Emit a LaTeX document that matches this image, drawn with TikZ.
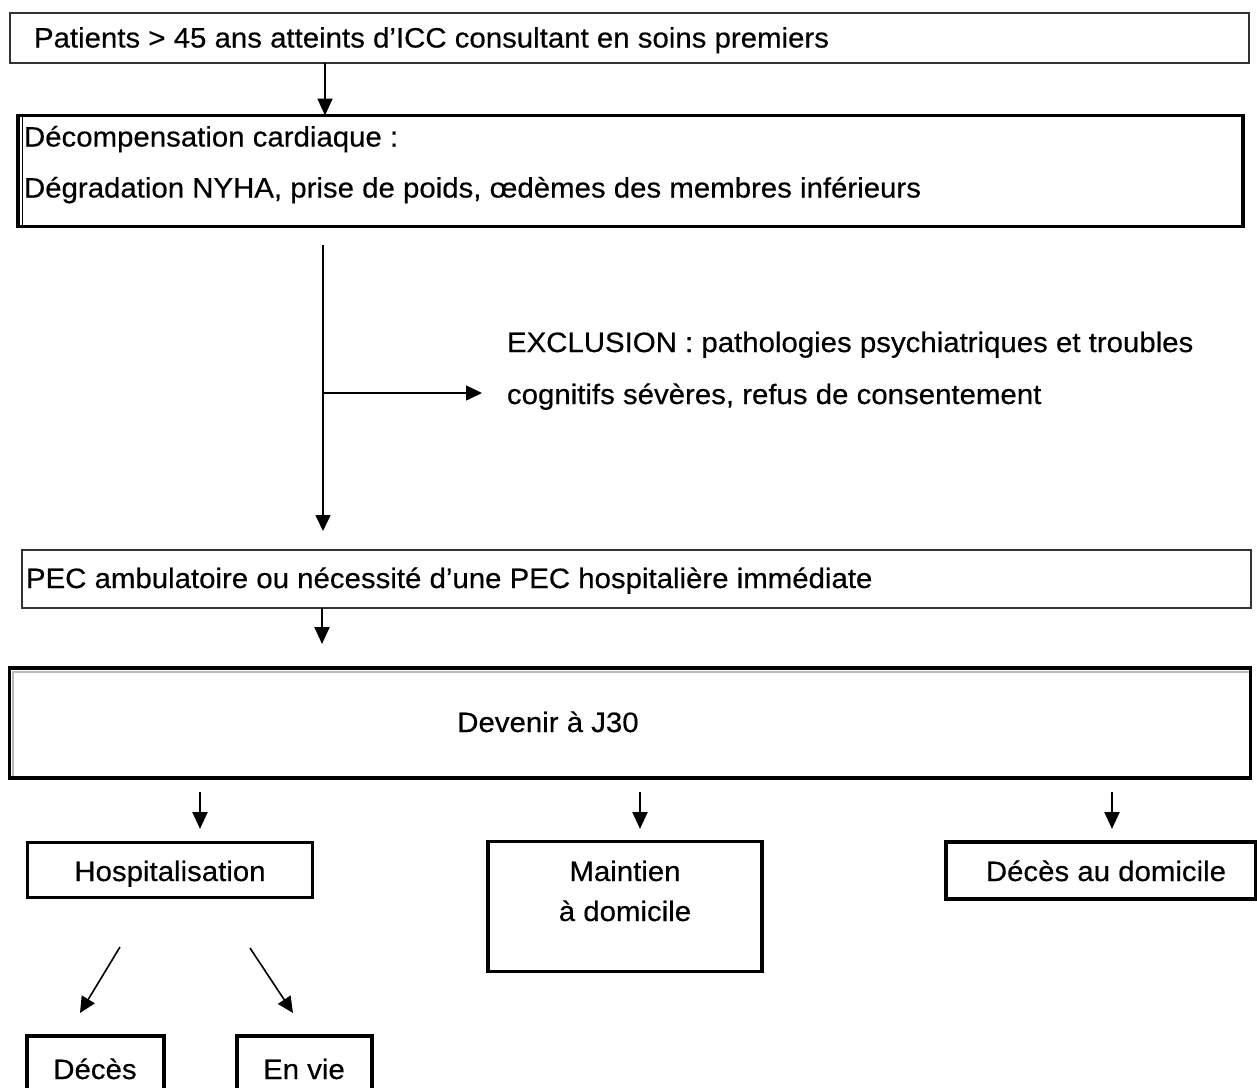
\documentclass[tikz,border=0pt]{standalone}
\usepackage{fontspec}
\setmainfont{Liberation Sans}[FakeStretch=1.05,FakeBold=0.4]
\usetikzlibrary{arrows.meta}
\newcommand\diagfont{\fontsize{28bp}{33bp}\selectfont}
\tikzset{
  thinbox/.style={draw=black!80, line width=1.2bp, inner sep=0pt, outer sep=0pt, rectangle},
  thickbox/.style={draw=black, line width=3.8bp, inner sep=0pt, outer sep=0pt, rectangle},
  txt/.style={inner sep=0pt, outer sep=0pt, font=\diagfont},
  arr/.style={line width=2.2bp, -{Triangle[length=17bp,width=15bp]}},
  thinarr/.style={line width=1.6bp, -{Triangle[length=16bp,width=15bp]}},
}
\begin{document}
\begin{tikzpicture}[x=1bp,y=-1bp]
\clip (0,0) rectangle (1257,1088);
\fill[white] (0,0) rectangle (1257,1088);

% box 1
\node[thinbox, minimum width=1239bp, minimum height=50bp] (b1) at (629.5,38) {};
\node[txt, anchor=base west] (t1) at (34,47.5) {Patients > 45 ans atteints d’ICC consultant en soins premiers};

% box 2
\node[thickbox, minimum width=1225bp, minimum height=111bp] (b2) at (630.5,171) {};
\draw[line width=1bp] (22,117) -- (22,225);
\node[txt, anchor=base west] (t2a) at (24,146.5) {Décompensation cardiaque :};
\node[txt, anchor=base west] (t2b) at (24,197.5) {Dégradation NYHA, prise de poids, œdèmes des membres inférieurs};

\coordinate (a1x) at (325,0);
\draw[arr] (b1.south -| a1x) -- (b2.north -| a1x);

% exclusion branch
\coordinate (vs) at (323,245);
\coordinate (ve) at (323,531);
\coordinate (hs) at (323,393);
\coordinate (he) at (482,393);
\draw[thinarr] (vs) -- (ve);
\draw[thinarr] (hs) -- (he);
\node[txt, anchor=base west, align=left] (ex) at (507,404) {EXCLUSION : pathologies psychiatriques et troubles\\[19bp]cognitifs sévères, refus de consentement};

% box 3
\node[thinbox, minimum width=1229bp, minimum height=58bp] (b3) at (636.5,579) {};
\node[txt, anchor=base west] (t3) at (26,588) {PEC ambulatoire ou nécessité d’une PEC hospitalière immédiate};

\coordinate (a3x) at (322,0);
\coordinate (a3e) at (322,644);
\draw[arr] (b3.south -| a3x) -- (a3e);

% box 4
\node[thickbox, minimum width=1241bp, minimum height=110bp] (b4) at (630,723) {};
\draw[gray!55, line width=2.5bp] (13,776) -- (13,672) -- (1249,672);
\node[txt, anchor=base] (t4) at (548,732) {Devenir à J30};

% outcome boxes
\node[thickbox, minimum width=285bp, minimum height=55bp] (h) at (170,870) {};
\node[txt, anchor=base] (th) at (170,881) {Hospitalisation};

\node[thickbox, minimum width=274bp, minimum height=130bp] (m) at (625,906.5) {};
\node[txt, anchor=base] (tm1) at (625,881) {Maintien};
\node[txt, anchor=base] (tm2) at (625,921) {à domicile};

\node[thickbox, minimum width=310bp, minimum height=57bp] (dd) at (1101,870.5) {};
\node[txt, anchor=base] (tdd) at (1106,881) {Décès au domicile};

\coordinate (s1) at (200,792); \coordinate (e1) at (200,829);
\coordinate (s2) at (640,792); \coordinate (e2) at (640,829);
\coordinate (s3) at (1112,792); \coordinate (e3) at (1112,829);
\draw[arr] (s1) -- (e1);
\draw[arr] (s2) -- (e2);
\draw[arr] (s3) -- (e3);

% hospitalisation branches
\node[thickbox, minimum width=137bp, minimum height=80bp] (dc) at (95.5,1076) {};
\node[txt, anchor=base] (tdc) at (95,1079) {Décès};
\node[thickbox, minimum width=135bp, minimum height=80bp] (ev) at (304.5,1076) {};
\node[txt, anchor=base] (tev) at (304,1079) {En vie};

\coordinate (d1s) at (120,947); \coordinate (d1e) at (80,1013);
\coordinate (d2s) at (250,948); \coordinate (d2e) at (293,1013);
\draw[thinarr] (d1s) -- (d1e);
\draw[thinarr] (d2s) -- (d2e);
\end{tikzpicture}
\end{document}
